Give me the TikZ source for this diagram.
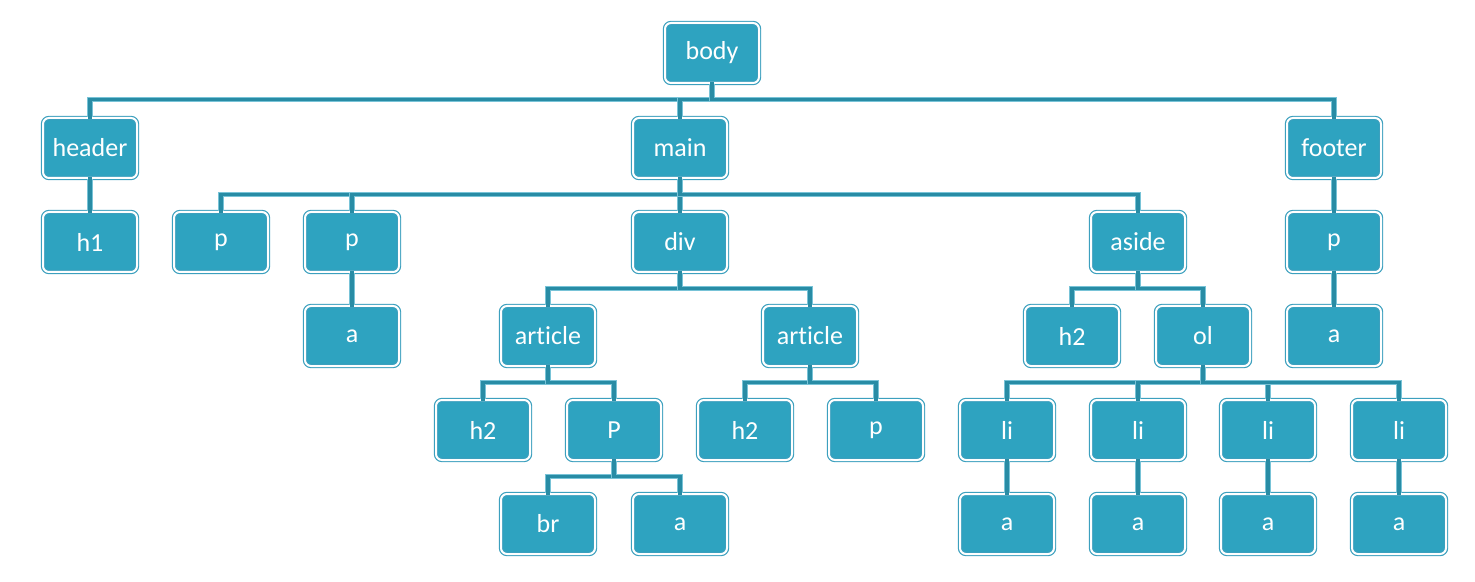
\documentclass[tikz,border=0pt]{standalone}
\usepackage{fontspec}
\setmainfont[Ligatures=NoCommon]{Carlito}
\definecolor{boxfill}{RGB}{46,163,192}
\definecolor{boxline}{RGB}{60,160,190}
\definecolor{conndark}{RGB}{40,140,165}
\definecolor{connlight}{RGB}{120,195,215}
\begin{document}
\begin{tikzpicture}[x=0.5pt,y=-0.5pt,
  tbox/.style={draw=boxline, line width=0.6pt, double=white, double distance=1pt,
    fill=boxfill, rounded corners=3pt, minimum width=47pt, minimum height=30pt,
    inner sep=0pt, text=white, font=\fontsize{13}{15}\selectfont},
  conn/.style={draw=conndark, line width=1.6pt, line cap=rect,
    preaction={draw=connlight, line width=2.6pt}}]
\useasboundingbox (0,0) rectangle (1475,582);
% row 0
\node[tbox] (body) at (712,53) {body};
% row 1
\node[tbox] (header) at (90,148) {header};
\node[tbox] (main) at (680,148) {main};
\node[tbox] (footer) at (1334,148) {footer};
% row 2
\node[tbox] (h1) at (90,242) {h1};
\node[tbox] (p1) at (221,242) {p};
\node[tbox] (p2) at (352,242) {p};
\node[tbox] (div) at (680,242) {div};
\node[tbox] (aside) at (1138,242) {aside};
\node[tbox] (fp) at (1334,242) {p};
% row 3
\node[tbox] (a1) at (352,336) {a};
\node[tbox] (art1) at (548,336) {article};
\node[tbox] (art2) at (810,336) {article};
\node[tbox] (h2a) at (1072,336) {h2};
\node[tbox] (ol) at (1203,336) {ol};
\node[tbox] (fa) at (1334,336) {a};
% row 4
\node[tbox] (h2b) at (483,430) {h2};
\node[tbox] (P) at (614,430) {P};
\node[tbox] (h2c) at (745,430) {h2};
\node[tbox] (pc) at (876,430) {p};
\node[tbox] (li1) at (1007,430) {li};
\node[tbox] (li2) at (1138,430) {li};
\node[tbox] (li3) at (1268,430) {li};
\node[tbox] (li4) at (1399,430) {li};
% row 5
\node[tbox] (br) at (548,524) {br};
\node[tbox] (a2) at (680,524) {a};
\node[tbox] (la1) at (1007,524) {a};
\node[tbox] (la2) at (1138,524) {a};
\node[tbox] (la3) at (1268,524) {a};
\node[tbox] (la4) at (1399,524) {a};
% connectors
\foreach \p/\c in {body/header,body/main,body/footer,
  header/h1,main/p1,main/p2,main/div,main/aside,footer/fp,
  p2/a1,div/art1,div/art2,aside/h2a,aside/ol,fp/fa,
  art1/h2b,art1/P,art2/h2c,art2/pc,ol/li1,ol/li2,ol/li3,ol/li4,
  P/br,P/a2,li1/la1,li2/la2,li3/la3,li4/la4}
  \draw[conn] (\p.south) -- ++(0,16) -| (\c.north);
\end{tikzpicture}
\end{document}
